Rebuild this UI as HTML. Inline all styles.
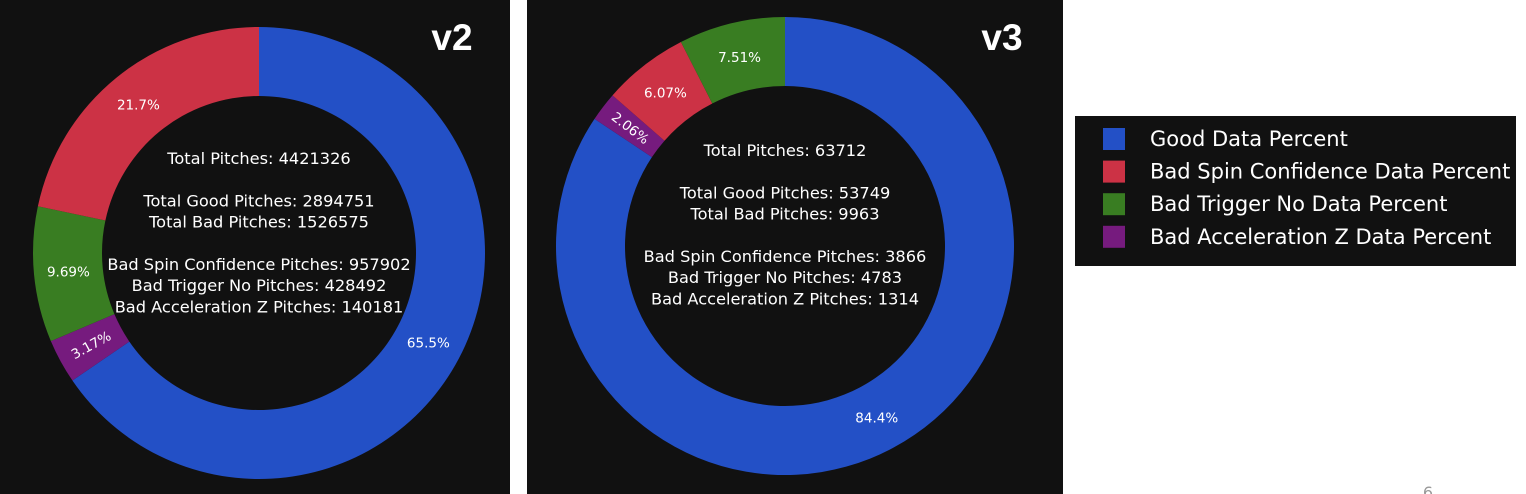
<!DOCTYPE html>
<html><head><meta charset="utf-8"><style>
body{margin:0;width:1526px;height:494px;background:#fff;overflow:hidden;position:relative;font-family:"DejaVu Sans","Liberation Sans",sans-serif}
svg{position:absolute;left:0;top:0}
</style></head><body>
<svg width="1526" height="494">
<rect x="0" y="0" width="510" height="494" fill="#111111"/>
<rect x="527" y="0" width="536" height="494" fill="#111111"/>
<text x="452" y="50" text-anchor="middle" font-family="Liberation Sans, sans-serif" font-weight="bold" font-size="37" fill="#fff">v2</text>
<text x="1002" y="50" text-anchor="middle" font-family="Liberation Sans, sans-serif" font-weight="bold" font-size="37" fill="#fff">v3</text>
<g id="v2"></g><g id="v3"></g>
<rect x="1075" y="116" width="441" height="150" fill="#111111"/>
<g id="legend"></g>
<text x="1428" y="498" text-anchor="middle" font-size="16" fill="#999">6</text>
</svg>
<script>
const legendLabels=["Good Data Percent","Bad Spin Confidence Data Percent","Bad Trigger No Data Percent","Bad Acceleration Z Data Percent"];
const legendColors=["#2350c6","#cc3245","#397d22","#761b7e"];
const v2Categories=["Good","Acceleration Z","Trigger No","Spin Confidence"];
const v2Values=[65.5,3.17,9.69,21.7];
const v2Labels=["65.5%","3.17%","9.69%","21.7%"];
const v2Colors=["#2350c6","#761b7e","#397d22","#cc3245"];
const v2Text=["Total Pitches: 4421326","","Total Good Pitches: 2894751","Total Bad Pitches: 1526575","","Bad Spin Confidence Pitches: 957902","Bad Trigger No Pitches: 428492","Bad Acceleration Z Pitches: 140181"];
const v3Categories=["Good","Acceleration Z","Spin Confidence","Trigger No"];
const v3Values=[84.4,2.06,6.07,7.51];
const v3Labels=["84.4%","2.06%","6.07%","7.51%"];
const v3Colors=["#2350c6","#761b7e","#cc3245","#397d22"];
const v3Text=["Total Pitches: 63712","","Total Good Pitches: 53749","Total Bad Pitches: 9963","","Bad Spin Confidence Pitches: 3866","Bad Trigger No Pitches: 4783","Bad Acceleration Z Pitches: 1314"];
const NS="http://www.w3.org/2000/svg";
function donut(gid,cx,cy,R,r,vals,labels,colors,cats,lines,textTop){
  const g=document.getElementById(gid);
  const total=vals.reduce((a,b)=>a+b,0);
  let acc=0;
  const pt=(rad,frac)=>{const a=frac*2*Math.PI;return [cx+rad*Math.sin(a),cy-rad*Math.cos(a)];};
  vals.forEach((v,i)=>{
    const f0=acc/total,f1=(acc+v)/total;acc+=v;
    const large=(f1-f0)>0.5?1:0;
    const [x0,y0]=pt(R,f0),[x1,y1]=pt(R,f1),[x2,y2]=pt(r,f1),[x3,y3]=pt(r,f0);
    const p=document.createElementNS(NS,"path");
    p.setAttribute("d",`M${x0},${y0}A${R},${R} 0 ${large} 1 ${x1},${y1}L${x2},${y2}A${r},${r} 0 ${large} 0 ${x3},${y3}Z`);
    p.setAttribute("fill",colors[i]);
    
    
    g.appendChild(p);
    const fm=(f0+f1)/2;const [lx,ly]=pt((R+r)/2,fm);
    const t=document.createElementNS(NS,"text");
    t.setAttribute("x",lx);t.setAttribute("y",ly+5);
    t.setAttribute("text-anchor","middle");t.setAttribute("font-size","13.5");t.setAttribute("fill","#fff");
    if((f1-f0)<0.04){let ang=Math.atan2(-Math.cos(fm*2*Math.PI),Math.sin(fm*2*Math.PI))*180/Math.PI;
      if(ang>90)ang-=180;if(ang<-90)ang+=180;t.setAttribute("transform",`rotate(${ang} ${lx} ${ly})`);}
    t.textContent=labels[i];
    
    
    g.appendChild(t);
  });
  lines.forEach((s,i)=>{if(!s)return;
    const t=document.createElementNS(NS,"text");
    t.setAttribute("x",cx);t.setAttribute("y",textTop+i*21.2);
    t.setAttribute("text-anchor","middle");t.setAttribute("font-size","16.2");t.setAttribute("fill","#fff");
    t.textContent=s;
    
    
    g.appendChild(t);});
}
donut("v2",259,253,226,157,v2Values,v2Labels,v2Colors,v2Categories,v2Text,164);
donut("v3",785,246,229,160,v3Values,v3Labels,v3Colors,v3Categories,v3Text,156);
const lg=document.getElementById("legend");
legendLabels.forEach((s,i)=>{
  const y=139+i*32.6;
  const r=document.createElementNS(NS,"rect");
  r.setAttribute("x",1103);r.setAttribute("y",y-11);r.setAttribute("width",22);r.setAttribute("height",22);r.setAttribute("fill",legendColors[i]);
  
  
  lg.appendChild(r);
  const t=document.createElementNS(NS,"text");
  t.setAttribute("x",1150);t.setAttribute("y",y+7);t.setAttribute("font-size","21");t.setAttribute("fill","#fff");
  t.textContent=s;
  
  
  lg.appendChild(t);
});
</script>
</body></html>
